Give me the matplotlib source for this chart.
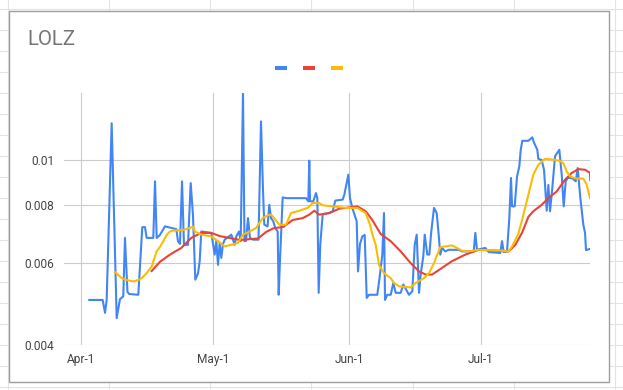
import numpy as np
import pandas as pd
import matplotlib
matplotlib.use("Agg")
import matplotlib.pyplot as plt
from matplotlib.patches import Rectangle

# ---------------- data ----------------
start_date = "2020-04-01"
title = "LOLZ"
series_colors = ["#4285F4", "#EA4335", "#FBBC04"]
x_tick_dates = ["2020-04-01", "2020-05-01", "2020-06-01", "2020-07-01"]
x_tick_labels = ["Apr-1", "May-1", "Jun-1", "Jul-1"]
y_ticks = [0.004, 0.006, 0.008, 0.01]
y_tick_labels = ["0.004", "0.006", "0.008", "0.01"]

# days after start_date
blue_day = [1.8, 4.85, 5.38, 5.76, 6.9, 8.04, 8.79, 9.54, 9.93, 10.5,
            10.91, 12.96, 13.87, 14.49, 14.87, 16.38, 16.77, 17.15, 17.9, 19.04,
            21.62, 22.0, 22.46, 22.92, 23.37, 24.28, 24.9, 25.42, 25.95, 26.56,
            26.95, 27.31, 29.59, 29.98, 30.36, 30.73, 31.12, 31.5, 31.87, 32.26,
            32.64, 34.15, 34.92, 35.28, 35.9, 36.29, 36.81, 37.15, 37.5, 37.95,
            38.4, 39.09, 40.34, 40.91, 41.37, 41.66, 42.41, 42.8, 43.19, 43.71,
            44.17, 44.71, 44.94, 45.24, 45.85, 46.61, 51.16, 51.69, 51.91, 52.07,
            52.82, 53.44, 53.74, 54.05, 54.42, 54.97, 56.47, 57.24, 57.84, 59.52,
            59.89, 60.8, 61.18, 61.71, 62.71, 63.01, 63.46, 63.99, 64.53, 64.99,
            65.51, 67.4, 68.0, 68.54, 68.93, 69.16, 69.68, 70.46, 71.05, 71.6,
            72.73, 73.33, 74.62, 75.38, 75.92, 76.38, 76.9, 77.29, 77.88, 78.2,
            78.79, 79.25, 79.7, 80.32, 80.93, 81.39, 81.75, 82.14, 82.89, 83.67,
            85.95, 86.7, 89.36, 89.73, 90.11, 92.0, 92.78, 95.42, 95.81, 96.2,
            96.95, 97.47, 97.86, 98.09, 98.7, 99.23, 99.75, 100.07, 100.43, 101.8,
            102.71, 103.1, 103.85, 104.08, 104.85, 105.38, 105.99, 106.36, 106.74, 107.27,
            107.88, 108.86, 109.41, 109.86, 110.32, 110.77, 111.75, 112.6, 113.05, 113.65,
            114.33, 114.72, 114.94, 115.85]
blue_val = [0.0050, 0.0050, 0.00469, 0.0050, 0.0120, 0.00457, 0.00502, 0.00509, 0.0068, 0.0052,
            0.00515, 0.00513, 0.00717, 0.00717, 0.0068, 0.0068, 0.0090, 0.0068, 0.0069, 0.0072,
            0.0071, 0.00669, 0.0066, 0.0090, 0.00657, 0.00657, 0.00892, 0.0076, 0.00553, 0.0057,
            0.00606, 0.00702, 0.00697, 0.0066, 0.00626, 0.0067, 0.00595, 0.00663, 0.00616, 0.0066,
            0.00674, 0.00691, 0.00657, 0.00685, 0.00702, 0.00669, 0.0139, 0.00669, 0.0067, 0.0075,
            0.0068, 0.00674, 0.00674, 0.01211, 0.0086, 0.00726, 0.0072, 0.00801, 0.0075, 0.00738,
            0.00714, 0.00702, 0.00513, 0.0061, 0.00831, 0.00828, 0.00828, 0.00815, 0.00997, 0.00815,
            0.00815, 0.00849, 0.00828, 0.00518, 0.0066, 0.00765, 0.00769, 0.00776, 0.00818, 0.00822,
            0.00842, 0.0093, 0.00828, 0.00789, 0.00738, 0.00576, 0.0066, 0.00685, 0.0069, 0.00505,
            0.00513, 0.00513, 0.00566, 0.00625, 0.00769, 0.0050, 0.00513, 0.00513, 0.00544, 0.00518,
            0.00518, 0.0054, 0.00513, 0.00522, 0.00657, 0.00691, 0.00518, 0.00568, 0.00621, 0.00691,
            0.00626, 0.00626, 0.00702, 0.00789, 0.00769, 0.0069, 0.00626, 0.00647, 0.00636, 0.00641,
            0.00641, 0.00636, 0.00636, 0.00697, 0.00641, 0.00647, 0.00634, 0.00631, 0.00669, 0.00634,
            0.00636, 0.0075, 0.00915, 0.00795, 0.00795, 0.00922, 0.00969, 0.01052, 0.0110, 0.0110,
            0.01119, 0.0109, 0.01052, 0.01006, 0.0100, 0.00952, 0.00778, 0.00884, 0.00776, 0.00871,
            0.01019, 0.01052, 0.0093, 0.00795, 0.0090, 0.00915, 0.00915, 0.0090, 0.00961, 0.00828,
            0.00726, 0.00697, 0.0064, 0.00644]

red_day = [16.01, 17.9, 20.18, 22.76, 25.03, 27.31, 29.59, 31.57, 36.13, 40.23,
           42.05, 43.71, 45.99, 48.13, 50.41, 51.91, 53.05, 54.19, 56.47, 58.75,
           60.27, 62.85, 64.76, 66.26, 68.18, 70.46, 72.73, 75.01, 76.9, 78.43,
           79.86, 82.14, 84.42, 87.45, 90.5, 93.53, 97.33, 98.84, 100.36, 101.82,
           102.94, 104.85, 106.36, 108.27, 110.16, 111.69, 113.19, 114.72, 115.85, 115.92]
red_val = [0.00577, 0.00604, 0.00626, 0.00647, 0.0068, 0.00697, 0.00697, 0.00686, 0.00673, 0.00678,
           0.0070, 0.00713, 0.00718, 0.00743, 0.0075, 0.00763, 0.00778, 0.00763, 0.00769, 0.00786,
           0.00789, 0.00795, 0.00776, 0.00743, 0.00693, 0.00669, 0.00636, 0.0060, 0.00576, 0.00567,
           0.00567, 0.00586, 0.00606, 0.00626, 0.00641, 0.00639, 0.00636, 0.00657, 0.00697, 0.00755,
           0.00776, 0.00801, 0.00828, 0.00856, 0.00907, 0.00938, 0.00956, 0.00953, 0.00938, 0.00906]

yellow_day = [7.65, 9.18, 10.32, 11.82, 12.96, 13.74, 14.87, 16.01, 17.15, 17.9,
              18.66, 19.43, 20.18, 20.93, 23.21, 24.67, 25.49, 25.81, 27.31, 29.59,
              31.12, 32.64, 34.15, 35.67, 36.81, 38.34, 39.77, 41.3, 42.8, 43.4,
              45.08, 46.61, 47.74, 49.64, 51.55, 52.69, 54.19, 54.97, 57.24, 60.27,
              62.85, 64.76, 65.74, 66.31, 67.04, 67.79, 68.93, 70.46, 71.21, 72.35,
              75.01, 76.15, 78.04, 79.18, 80.32, 81.0, 81.75, 82.89, 84.42, 85.56,
              86.7, 88.22, 90.5, 95.06, 97.33, 98.09, 99.45, 100.3, 101.44, 102.19,
              102.94, 104.08, 105.6, 107.88, 109.02, 109.77, 110.55, 111.3, 112.83, 114.33,
              115.1, 115.85]
yellow_val = [0.00574, 0.00557, 0.00552, 0.00548, 0.00552, 0.00557, 0.00571, 0.0059, 0.00636, 0.0065,
              0.00669, 0.0069, 0.00702, 0.00705, 0.00707, 0.00714, 0.00719, 0.00702, 0.00691, 0.00685,
              0.00669, 0.00652, 0.00657, 0.00663, 0.00691, 0.00702, 0.00714, 0.0075, 0.00763, 0.0076,
              0.00726, 0.00726, 0.00769, 0.00778, 0.00789, 0.00808, 0.00808, 0.00799, 0.00795, 0.00789,
              0.00789, 0.00769, 0.00726, 0.0069, 0.00657, 0.00595, 0.00571, 0.00557, 0.00544, 0.00535,
              0.00532, 0.00544, 0.00557, 0.00571, 0.0060, 0.00624, 0.00649, 0.00652, 0.00655, 0.00647,
              0.00638, 0.00636, 0.00641, 0.00639, 0.00636, 0.00652, 0.00691, 0.00738, 0.00815, 0.00871,
              0.0093, 0.00977, 0.01006, 0.01001, 0.00995, 0.00985, 0.00945, 0.00922, 0.00912, 0.00912,
              0.00885, 0.00828]

assert len(blue_day) == len(blue_val)
assert len(red_day) == len(red_val)
assert len(yellow_day) == len(yellow_val)

# ---------------- figure ----------------
W, H = 623, 390
fig = plt.figure(figsize=(W / 100, H / 100), dpi=100)
fig.patch.set_facecolor("white")
FONT = ["Roboto", "DejaVu Sans"]

# background (spreadsheet) in pixel coordinates
bg = fig.add_axes([0, 0, 1, 1], zorder=0)
bg.set_xlim(0, W)
bg.set_ylim(H, 0)
bg.axis("off")
for k in range(19):
    yy = 9.0 + 20.98 * k
    bg.plot([0, W], [yy, yy], color="#e2e3e3", lw=0.8, zorder=0)
for k in range(7):
    xx = 7.8 + 101.2 * k
    bg.plot([xx, xx], [0, H], color="#e2e3e3", lw=0.8, zorder=0)
bg.add_patch(Rectangle((8.7, 10.7), 609.3 - 8.7, 381.7 - 10.7,
                       facecolor="white", edgecolor="#9e9e9e", lw=1.0, zorder=1))
bg.text(27.5, 39.5, title, fontsize=14.7, color="#757575", va="center", ha="left",
        family=FONT, zorder=2)
legend_x = [275, 303, 331]
for lx, c in zip(legend_x, series_colors):
    bg.add_patch(Rectangle((lx, 65.7), 12, 4, facecolor=c, edgecolor="none", zorder=2))

# main axes
left, right, top, bottom = 63.6, 590.0, 92.7, 345.0
ax = fig.add_axes([left / W, 1 - bottom / H, (right - left) / W, (bottom - top) / H], zorder=1)
ax.set_facecolor("none")

base = pd.Timestamp(start_date)
def to_dates(days):
    return base + pd.to_timedelta(np.array(days), unit="D")

ax.plot(to_dates(blue_day), blue_val, color=series_colors[0], lw=1.5, zorder=3)
ax.plot(to_dates(red_day), red_val, color=series_colors[1], lw=1.5, zorder=4)
ax.plot(to_dates(yellow_day), yellow_val, color=series_colors[2], lw=1.5, zorder=5)

ax.set_yscale("log")
ax.set_ylim(0.004, 0.01396)
ax.set_xlim(base + pd.Timedelta(days=-4.05), base + pd.Timedelta(days=115.85))

ax.set_yticks(y_ticks)
ax.set_yticklabels(y_tick_labels)
ax.yaxis.set_minor_locator(matplotlib.ticker.NullLocator())
ax.set_xticks(pd.to_datetime(x_tick_dates))
ax.set_xticklabels(x_tick_labels)
ax.xaxis.set_minor_locator(matplotlib.ticker.NullLocator())

ax.tick_params(axis="both", length=0, labelsize=8.6, labelcolor="#444444")
ax.tick_params(axis="y", pad=6.5)
ax.tick_params(axis="x", pad=6.0)
for lab in ax.get_xticklabels() + ax.get_yticklabels():
    lab.set_family(FONT)

ax.grid(True, which="major", color="#cccccc", lw=0.8, zorder=0)
ax.set_axisbelow(True)
for s in ax.spines.values():
    s.set_visible(False)

fig.savefig("out.png", dpi=100, facecolor="white")
